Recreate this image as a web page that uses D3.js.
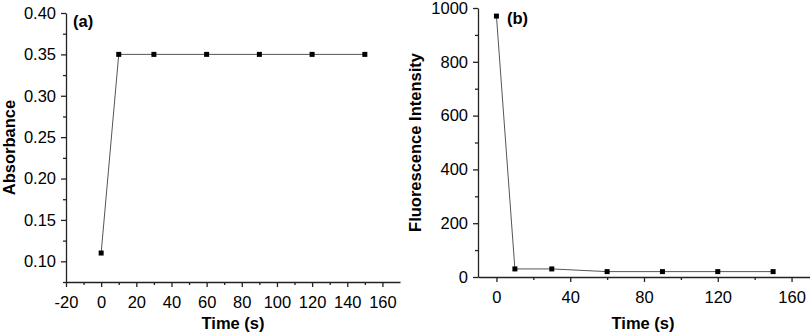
<!DOCTYPE html>
<html>
<head>
<meta charset="utf-8">
<script src="https://cdn.jsdelivr.net/npm/d3@7"></script>
<style>
  body { margin: 0; background: #fff; }
  svg text { font-family: "Liberation Sans", Arial, sans-serif; fill: #000; }
  .axis path, .axis line { stroke: #222; stroke-width: 1.3; }
  .axis text { font-size: 16.5px; }
  .title { font-size: 16.5px; font-weight: bold; }
</style>
</head>
<body>
<div id="chart"></div>
<script>
// panel (a)
var timeA = [0, 10, 30, 60, 90, 120, 150];
var absorbance = [0.11, 0.35, 0.35, 0.35, 0.35, 0.35, 0.35];
var xTicksA = [-20, 0, 20, 40, 60, 80, 100, 120, 140, 160];
var yTicksA = [0.10, 0.15, 0.20, 0.25, 0.30, 0.35, 0.40];

// panel (b)
var timeB = [0, 10, 30, 60, 90, 120, 150];
var fluorescence = [970, 30, 30, 20, 20, 20, 20];
var xTicksB = [0, 40, 80, 120, 160];
var yTicksB = [0, 200, 400, 600, 800, 1000];

var svg = d3.select("#chart").append("svg")
    .attr("width", 810)
    .attr("height", 333);

function drawPanel(opt){
  var xScale = d3.scaleLinear().domain(opt.xDomain).range([opt.left, opt.right]);
  var yScale = d3.scaleLinear().domain(opt.yDomain).range([opt.bottom, opt.top]);

  // minor ticks first
  svg.append("g")
    .attr("class", "axis")
    .attr("transform", "translate(0," + opt.bottom + ")")
    .call(d3.axisBottom(xScale).tickValues(opt.xMinor).tickSize(3).tickFormat(""))
    .select(".domain").remove();
  svg.append("g")
    .attr("class", "axis")
    .attr("transform", "translate(" + opt.left + ",0)")
    .call(d3.axisLeft(yScale).tickValues(opt.yMinor).tickSize(3).tickFormat(""))
    .select(".domain").remove();

  svg.append("g")
    .attr("class", "axis")
    .attr("transform", "translate(0," + opt.bottom + ")")
    .call(d3.axisBottom(xScale).tickValues(opt.xTicks).tickSize(5).tickSizeOuter(0).tickPadding(6)
      .tickFormat(function(d){ return String(d); }))
    .selectAll("text").attr("dy", "0.9em");

  svg.append("g")
    .attr("class", "axis")
    .attr("transform", "translate(" + opt.left + ",0)")
    .call(d3.axisLeft(yScale).tickValues(opt.yTicks).tickSize(5).tickSizeOuter(0).tickPadding(5)
      .tickFormat(opt.yFormat));

  var pts = opt.xs.map(function(d, i){ return [d, opt.ys[i]]; });

  svg.append("path")
    .datum(pts)
    .attr("fill", "none")
    .attr("stroke", "#555")
    .attr("stroke-width", 1)
    .attr("d", d3.line()
      .x(function(d){ return xScale(d[0]); })
      .y(function(d){ return yScale(d[1]); }));

  svg.selectAll(null)
    .data(pts)
    .enter()
    .append("rect")
      .attr("x", function(d){ return xScale(d[0]) - 2.5; })
      .attr("y", function(d){ return yScale(d[1]) - 2.5; })
      .attr("width", 5)
      .attr("height", 5)
      .attr("fill", "#000");

  svg.append("text")
    .attr("class", "title")
    .attr("x", opt.tagX)
    .attr("y", opt.tagY)
    .text(opt.tag);

  svg.append("text")
    .attr("class", "title")
    .attr("text-anchor", "middle")
    .attr("x", opt.xLabelX)
    .attr("y", 329)
    .text("Time (s)");

  svg.append("text")
    .attr("class", "title")
    .attr("text-anchor", "middle")
    .attr("transform", "translate(" + opt.yLabelX + "," + ((opt.top + opt.bottom) / 2) + ") rotate(-90)")
    .text(opt.yLabel);
}

drawPanel({
  xs: timeA, ys: absorbance,
  xDomain: [-20, 170], yDomain: [0.075, 0.40],
  left: 66, right: 400, top: 13, bottom: 282,
  xTicks: xTicksA, yTicks: yTicksA,
  xMinor: [-10, 10, 30, 50, 70, 90, 110, 130, 150],
  yMinor: [0.075, 0.125, 0.175, 0.225, 0.275, 0.325, 0.375],
  yFormat: d3.format(".2f"),
  tag: "(a)", tagX: 73, tagY: 27,
  xLabelX: 233,
  yLabelX: 15, yLabel: "Absorbance"
});

drawPanel({
  xs: timeB, ys: fluorescence,
  xDomain: [-10, 170], yDomain: [0, 1000],
  left: 478, right: 810, top: 8, bottom: 277,
  xTicks: xTicksB, yTicks: yTicksB,
  xMinor: [20, 60, 100, 140],
  yMinor: [100, 300, 500, 700, 900],
  yFormat: d3.format("d"),
  tag: "(b)", tagX: 507, tagY: 24,
  xLabelX: 643,
  yLabelX: 421, yLabel: "Fluorescence Intensity"
});
</script>
</body>
</html>
